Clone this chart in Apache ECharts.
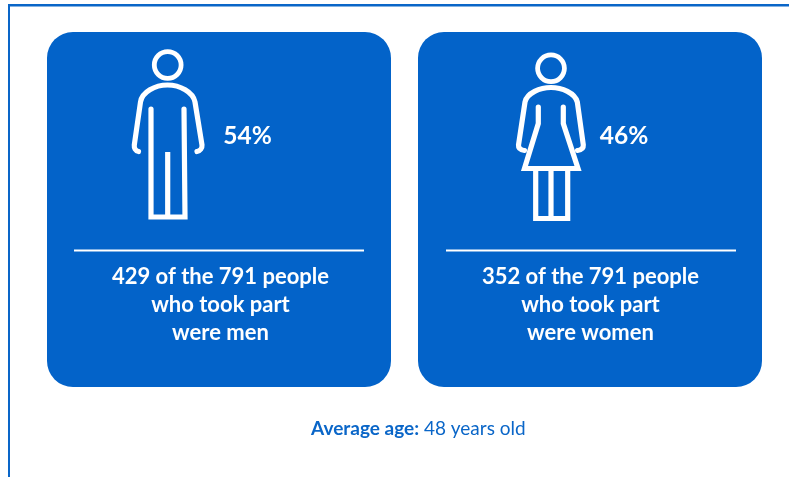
<!DOCTYPE html>
<html><head><meta charset="utf-8">
<style>html,body{margin:0;padding:0;background:#fff}#c{width:789px;height:477px}</style>
<script src="https://cdn.jsdelivr.net/npm/echarts@6/dist/echarts.min.js"></script></head>
<body><div id="c"></div>
<script>
const percents = ['54%', '46%'];
const captionsMen = ['429 of the 791 people', 'who took part', 'were men'];
const captionsWomen = ['352 of the 791 people', 'who took part', 'were women'];
const ageLabel = 'Average age:';
const ageValue = ' 48 years old';

const BLUE = '#0363c9', FONT = 'Lato, "Open Sans", sans-serif';
const chart = echarts.init(document.getElementById('c'), null, {renderer: 'canvas'});
let shapeId = 0;
const line = (d, cap) => {
  const name = 'figurePath' + (shapeId++);
  echarts.graphic.registerShape(name, echarts.graphic.extendPath(d, {}));
  return {type: name, style: {fill: null, stroke: '#fff', lineWidth: 5.2, lineCap: cap || 'round', lineJoin: 'miter'}, silent: true};
};
const head = (cx, cy) => ({type: 'circle', shape: {cx, cy, r: 13.4}, style: {fill: null, stroke: '#fff', lineWidth: 4.8}});
const card = x => ({type: 'rect', shape: {x, y: 32, width: 344, height: 355, r: 26}, style: {fill: BLUE}});
const rule = x => ({type: 'rect', shape: {x, y: 249.5, width: 290, height: 2}, style: {fill: '#fff'}});
const txt = (x, y, text, size) => ({type: 'text', x, y, style: {text, fill: '#fff', font: `bold ${size}px ${FONT}`, align: 'center', verticalAlign: 'middle'}});
const caption = (lines, x) => lines.map((t, i) => txt(x, 277 + i * 28, t, 22));

chart.setOption({
  animation: false,
  graphic: {elements: [
    {type: 'rect', shape: {x: 8, y: 4, width: 781, height: 2.5}, style: {fill: '#0a66c8'}},
    {type: 'rect', shape: {x: 8, y: 4, width: 2, height: 473}, style: {fill: '#0a66c8'}},
    card(47), card(418),
    head(167.7, 65),
    line('M138.5 151.5 C135.5 151 134 148 134.3 145 L140.5 102 C142 92 155 85 167.5 85 C180 85 193 92 195 102 L202 145 C202.3 148 200 151 197 151.5'),
    line('M151 109 L151 217 L185 217 L184 109'),
    line('M167.7 152 L167.7 217', 'butt'),
    head(551, 68.3),
    line('M524.5 150.5 C520.5 150 518.3 148 518.5 145 L525 102 C527 93 540 87.5 551 87.5 C562 87.5 575 93 577.3 102 L583.3 145 C583.5 148 581.5 150 577.5 150.5'),
    line('M538.3 107 L538.3 123.5 L524.5 168.5 L578 168.5 L563.3 123.5 L563.3 107'),
    line('M535.7 168.5 L535.7 218.5 L567.7 218.5 L567.7 168.5', 'butt'),
    line('M551 168.5 L551 218.5', 'butt'),
    txt(247.5, 136, percents[0], 24.5), txt(624, 136, percents[1], 24.5),
    rule(74), rule(446),
    ...caption(captionsMen, 220.5), ...caption(captionsWomen, 590.5),
    {type: 'text', x: 311, y: 428.5, style: {
      text: `{b|${ageLabel}}{r|${ageValue}}`, verticalAlign: 'middle', align: 'left',
      rich: {b: {font: `bold 19px ${FONT}`, fill: '#0a66c8'}, r: {font: `19px ${FONT}`, fill: '#0a66c8'}}
    }}
  ]}
});
</script></body></html>
